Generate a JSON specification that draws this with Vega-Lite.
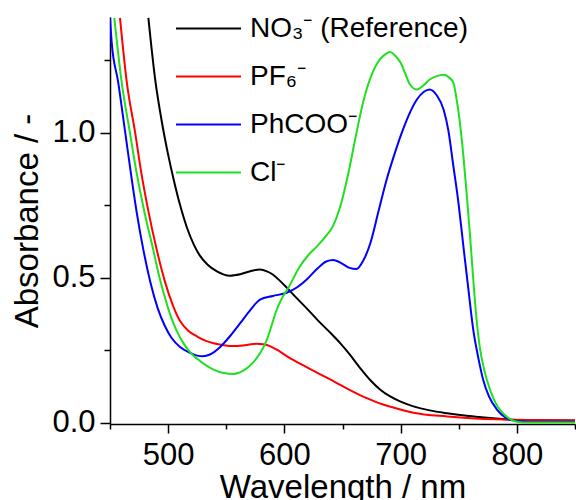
{
  "$schema": "https://vega.github.io/schema/vega-lite/v6.json",
  "width": 465,
  "height": 407,
  "autosize": {"type": "none"},
  "padding": {"left": 110, "top": 17, "right": 1, "bottom": 76},
  "background": "white",
  "config": {
    "view": {"stroke": null},
    "font": "Liberation Sans",
    "axis": {
      "domainColor": "#000",
      "domainWidth": 1.5,
      "tickColor": "#000",
      "tickWidth": 1.5,
      "labelColor": "#000",
      "titleColor": "#000",
      "labelFont": "Liberation Sans",
      "titleFont": "Liberation Sans",
      "labelFontSize": 31,
      "titleFontSize": 33,
      "titleFontWeight": "normal",
      "grid": false,
      "labelOverlap": false,
      "labelFlush": false
    }
  },
  "data": {
    "values": [
      {"s": "NO3", "x": 483, "y": 1.397}, {"s": "NO3", "x": 489, "y": 1.18}, {"s": "NO3", "x": 494.5, "y": 1.04},
      {"s": "NO3", "x": 500, "y": 0.925}, {"s": "NO3", "x": 505, "y": 0.835}, {"s": "NO3", "x": 510, "y": 0.755},
      {"s": "NO3", "x": 516, "y": 0.675}, {"s": "NO3", "x": 522, "y": 0.615}, {"s": "NO3", "x": 527, "y": 0.578},
      {"s": "NO3", "x": 534, "y": 0.545}, {"s": "NO3", "x": 542, "y": 0.522}, {"s": "NO3", "x": 553, "y": 0.507},
      {"s": "NO3", "x": 562, "y": 0.512}, {"s": "NO3", "x": 572, "y": 0.524}, {"s": "NO3", "x": 579, "y": 0.528},
      {"s": "NO3", "x": 585, "y": 0.522}, {"s": "NO3", "x": 590, "y": 0.511}, {"s": "NO3", "x": 596, "y": 0.49},
      {"s": "NO3", "x": 602, "y": 0.466}, {"s": "NO3", "x": 610, "y": 0.432}, {"s": "NO3", "x": 619, "y": 0.395},
      {"s": "NO3", "x": 629, "y": 0.352}, {"s": "NO3", "x": 639, "y": 0.312}, {"s": "NO3", "x": 648, "y": 0.274},
      {"s": "NO3", "x": 656, "y": 0.236}, {"s": "NO3", "x": 665, "y": 0.189}, {"s": "NO3", "x": 674, "y": 0.146},
      {"s": "NO3", "x": 682, "y": 0.115}, {"s": "NO3", "x": 691, "y": 0.09}, {"s": "NO3", "x": 700, "y": 0.072},
      {"s": "NO3", "x": 711, "y": 0.056}, {"s": "NO3", "x": 725, "y": 0.042}, {"s": "NO3", "x": 740, "y": 0.032},
      {"s": "NO3", "x": 755, "y": 0.024}, {"s": "NO3", "x": 768, "y": 0.019}, {"s": "NO3", "x": 782, "y": 0.014},
      {"s": "NO3", "x": 796, "y": 0.01}, {"s": "NO3", "x": 820, "y": 0.008}, {"s": "NO3", "x": 850, "y": 0.007},

      {"s": "PF6", "x": 458.6, "y": 1.397}, {"s": "PF6", "x": 464.4, "y": 1.176}, {"s": "PF6", "x": 471.5, "y": 1.004},
      {"s": "PF6", "x": 477.3, "y": 0.853}, {"s": "PF6", "x": 483, "y": 0.73}, {"s": "PF6", "x": 490, "y": 0.6},
      {"s": "PF6", "x": 497, "y": 0.49}, {"s": "PF6", "x": 504, "y": 0.405}, {"s": "PF6", "x": 510, "y": 0.352},
      {"s": "PF6", "x": 517, "y": 0.318}, {"s": "PF6", "x": 525, "y": 0.297}, {"s": "PF6", "x": 532, "y": 0.283},
      {"s": "PF6", "x": 539, "y": 0.274}, {"s": "PF6", "x": 548, "y": 0.267}, {"s": "PF6", "x": 556, "y": 0.264},
      {"s": "PF6", "x": 566, "y": 0.267}, {"s": "PF6", "x": 576, "y": 0.272}, {"s": "PF6", "x": 582, "y": 0.27},
      {"s": "PF6", "x": 588, "y": 0.263}, {"s": "PF6", "x": 595, "y": 0.248}, {"s": "PF6", "x": 602, "y": 0.229},
      {"s": "PF6", "x": 615, "y": 0.2}, {"s": "PF6", "x": 628, "y": 0.172}, {"s": "PF6", "x": 639, "y": 0.15},
      {"s": "PF6", "x": 648, "y": 0.13}, {"s": "PF6", "x": 656, "y": 0.113}, {"s": "PF6", "x": 665, "y": 0.095},
      {"s": "PF6", "x": 674, "y": 0.079}, {"s": "PF6", "x": 682, "y": 0.066}, {"s": "PF6", "x": 691, "y": 0.055},
      {"s": "PF6", "x": 711, "y": 0.034}, {"s": "PF6", "x": 740, "y": 0.021}, {"s": "PF6", "x": 768, "y": 0.013},
      {"s": "PF6", "x": 796, "y": 0.01}, {"s": "PF6", "x": 820, "y": 0.008}, {"s": "PF6", "x": 850, "y": 0.007},

      {"s": "PhCOO", "x": 450, "y": 1.397}, {"s": "PhCOO", "x": 451.4, "y": 1.315}, {"s": "PhCOO", "x": 457, "y": 1.176},
      {"s": "PhCOO", "x": 463, "y": 1.004}, {"s": "PhCOO", "x": 468.7, "y": 0.84}, {"s": "PhCOO", "x": 473, "y": 0.725},
      {"s": "PhCOO", "x": 479, "y": 0.59}, {"s": "PhCOO", "x": 485, "y": 0.48}, {"s": "PhCOO", "x": 491, "y": 0.395},
      {"s": "PhCOO", "x": 497, "y": 0.335}, {"s": "PhCOO", "x": 503, "y": 0.292}, {"s": "PhCOO", "x": 510, "y": 0.262},
      {"s": "PhCOO", "x": 518, "y": 0.242}, {"s": "PhCOO", "x": 525, "y": 0.231}, {"s": "PhCOO", "x": 530, "y": 0.229},
      {"s": "PhCOO", "x": 536, "y": 0.235}, {"s": "PhCOO", "x": 545, "y": 0.262}, {"s": "PhCOO", "x": 553, "y": 0.297},
      {"s": "PhCOO", "x": 562, "y": 0.343}, {"s": "PhCOO", "x": 570, "y": 0.385}, {"s": "PhCOO", "x": 579, "y": 0.424},
      {"s": "PhCOO", "x": 590, "y": 0.437}, {"s": "PhCOO", "x": 602, "y": 0.448}, {"s": "PhCOO", "x": 611, "y": 0.467},
      {"s": "PhCOO", "x": 619, "y": 0.493}, {"s": "PhCOO", "x": 628, "y": 0.53}, {"s": "PhCOO", "x": 636, "y": 0.556},
      {"s": "PhCOO", "x": 642, "y": 0.561}, {"s": "PhCOO", "x": 650, "y": 0.548}, {"s": "PhCOO", "x": 656, "y": 0.534},
      {"s": "PhCOO", "x": 662, "y": 0.53}, {"s": "PhCOO", "x": 668, "y": 0.56}, {"s": "PhCOO", "x": 674, "y": 0.62},
      {"s": "PhCOO", "x": 681, "y": 0.73}, {"s": "PhCOO", "x": 688, "y": 0.839}, {"s": "PhCOO", "x": 695, "y": 0.93},
      {"s": "PhCOO", "x": 702, "y": 1.011}, {"s": "PhCOO", "x": 708, "y": 1.07}, {"s": "PhCOO", "x": 714, "y": 1.115},
      {"s": "PhCOO", "x": 720, "y": 1.142}, {"s": "PhCOO", "x": 725, "y": 1.15}, {"s": "PhCOO", "x": 731, "y": 1.13},
      {"s": "PhCOO", "x": 737, "y": 1.08}, {"s": "PhCOO", "x": 741, "y": 1.01}, {"s": "PhCOO", "x": 745, "y": 0.896},
      {"s": "PhCOO", "x": 750, "y": 0.75}, {"s": "PhCOO", "x": 754, "y": 0.608}, {"s": "PhCOO", "x": 758, "y": 0.47},
      {"s": "PhCOO", "x": 762.5, "y": 0.32}, {"s": "PhCOO", "x": 767, "y": 0.22}, {"s": "PhCOO", "x": 771, "y": 0.148},
      {"s": "PhCOO", "x": 776, "y": 0.09}, {"s": "PhCOO", "x": 783, "y": 0.044}, {"s": "PhCOO", "x": 790, "y": 0.018},
      {"s": "PhCOO", "x": 796, "y": 0.008}, {"s": "PhCOO", "x": 805, "y": 0.004}, {"s": "PhCOO", "x": 820, "y": 0.003},
      {"s": "PhCOO", "x": 850, "y": 0.003},

      {"s": "Cl", "x": 453.7, "y": 1.397}, {"s": "Cl", "x": 460, "y": 1.176}, {"s": "Cl", "x": 467, "y": 1.004},
      {"s": "Cl", "x": 473, "y": 0.86}, {"s": "Cl", "x": 480, "y": 0.72}, {"s": "Cl", "x": 487, "y": 0.6},
      {"s": "Cl", "x": 492, "y": 0.51}, {"s": "Cl", "x": 497, "y": 0.435}, {"s": "Cl", "x": 502, "y": 0.37},
      {"s": "Cl", "x": 507, "y": 0.32}, {"s": "Cl", "x": 513, "y": 0.275}, {"s": "Cl", "x": 519, "y": 0.242},
      {"s": "Cl", "x": 525, "y": 0.22}, {"s": "Cl", "x": 539, "y": 0.183}, {"s": "Cl", "x": 548, "y": 0.171},
      {"s": "Cl", "x": 556, "y": 0.168}, {"s": "Cl", "x": 565, "y": 0.18}, {"s": "Cl", "x": 573, "y": 0.207},
      {"s": "Cl", "x": 580, "y": 0.245}, {"s": "Cl", "x": 585, "y": 0.286}, {"s": "Cl", "x": 589, "y": 0.335},
      {"s": "Cl", "x": 593, "y": 0.385}, {"s": "Cl", "x": 598, "y": 0.43}, {"s": "Cl", "x": 603, "y": 0.462},
      {"s": "Cl", "x": 613, "y": 0.537}, {"s": "Cl", "x": 620, "y": 0.575}, {"s": "Cl", "x": 628, "y": 0.608},
      {"s": "Cl", "x": 635, "y": 0.64}, {"s": "Cl", "x": 642, "y": 0.68}, {"s": "Cl", "x": 648, "y": 0.745},
      {"s": "Cl", "x": 655, "y": 0.86}, {"s": "Cl", "x": 662, "y": 1.0}, {"s": "Cl", "x": 668, "y": 1.11},
      {"s": "Cl", "x": 675, "y": 1.2}, {"s": "Cl", "x": 682, "y": 1.253}, {"s": "Cl", "x": 687, "y": 1.272},
      {"s": "Cl", "x": 691, "y": 1.279}, {"s": "Cl", "x": 695, "y": 1.268}, {"s": "Cl", "x": 700, "y": 1.242},
      {"s": "Cl", "x": 704, "y": 1.205}, {"s": "Cl", "x": 708, "y": 1.167}, {"s": "Cl", "x": 714, "y": 1.15},
      {"s": "Cl", "x": 720, "y": 1.165}, {"s": "Cl", "x": 725, "y": 1.184}, {"s": "Cl", "x": 731, "y": 1.196},
      {"s": "Cl", "x": 737, "y": 1.201}, {"s": "Cl", "x": 742, "y": 1.19}, {"s": "Cl", "x": 745.4, "y": 1.173},
      {"s": "Cl", "x": 748, "y": 1.12}, {"s": "Cl", "x": 751, "y": 1.035}, {"s": "Cl", "x": 754, "y": 0.92},
      {"s": "Cl", "x": 757, "y": 0.781}, {"s": "Cl", "x": 760, "y": 0.63}, {"s": "Cl", "x": 762.5, "y": 0.493},
      {"s": "Cl", "x": 765, "y": 0.37}, {"s": "Cl", "x": 768, "y": 0.263}, {"s": "Cl", "x": 772, "y": 0.18},
      {"s": "Cl", "x": 777, "y": 0.113}, {"s": "Cl", "x": 782, "y": 0.065}, {"s": "Cl", "x": 788, "y": 0.032},
      {"s": "Cl", "x": 795, "y": 0.01}, {"s": "Cl", "x": 800, "y": 0.003}, {"s": "Cl", "x": 810, "y": 0.0},
      {"s": "Cl", "x": 850, "y": 0.0}
    ]
  },
  "mark": {"type": "line", "strokeWidth": 2, "interpolate": "monotone", "clip": true},
  "encoding": {
    "x": {
      "field": "x", "type": "quantitative",
      "scale": {"domain": [450, 850], "nice": false, "zero": false},
      "axis": {
        "title": "Wavelength / nm",
        "values": [450, 500, 550, 600, 650, 700, 750, 800, 850],
        "labelExpr": "datum.value % 100 == 0 ? datum.value : ''",
        "tickSize": {"condition": {"test": "datum.value % 100 == 0", "value": 9}, "value": 5},
        "labelPadding": 7,
        "titlePadding": 1
      }
    },
    "y": {
      "field": "y", "type": "quantitative",
      "scale": {"domain": [-0.005, 1.4], "nice": false, "zero": false},
      "axis": {
        "title": "Absorbance / -",
        "values": [0, 0.25, 0.5, 0.75, 1, 1.25],
        "labelExpr": "(datum.value * 4) % 2 == 0 ? format(datum.value, '.1f') : ''",
        "tickSize": {"condition": {"test": "(datum.value * 4) % 2 == 0", "value": 10}, "value": 6},
        "labelPadding": 5,
        "titlePadding": 7
      }
    },
    "color": {
      "field": "s", "type": "nominal",
      "scale": {
        "domain": ["NO3", "PF6", "PhCOO", "Cl"],
        "range": ["#000000", "#ff0000", "#0000ff", "#1fe01f"]
      },
      "legend": {
        "title": null,
        "orient": "none",
        "legendX": 65,
        "legendY": -22,
        "symbolType": "stroke",
        "symbolSize": 4225,
        "symbolStrokeWidth": 2,
        "labelFontSize": 28,
        "labelFont": "Liberation Sans",
        "labelColor": "#000",
        "labelOffset": 8,
        "labelLimit": 400,
        "rowPadding": -16,
        "labelExpr": "datum.label == 'NO3' ? 'NO₃⁻ (Reference)' : datum.label == 'PF6' ? 'PF₆⁻' : datum.label == 'PhCOO' ? 'PhCOO⁻' : 'Cl⁻'"
      }
    }
  }
}
